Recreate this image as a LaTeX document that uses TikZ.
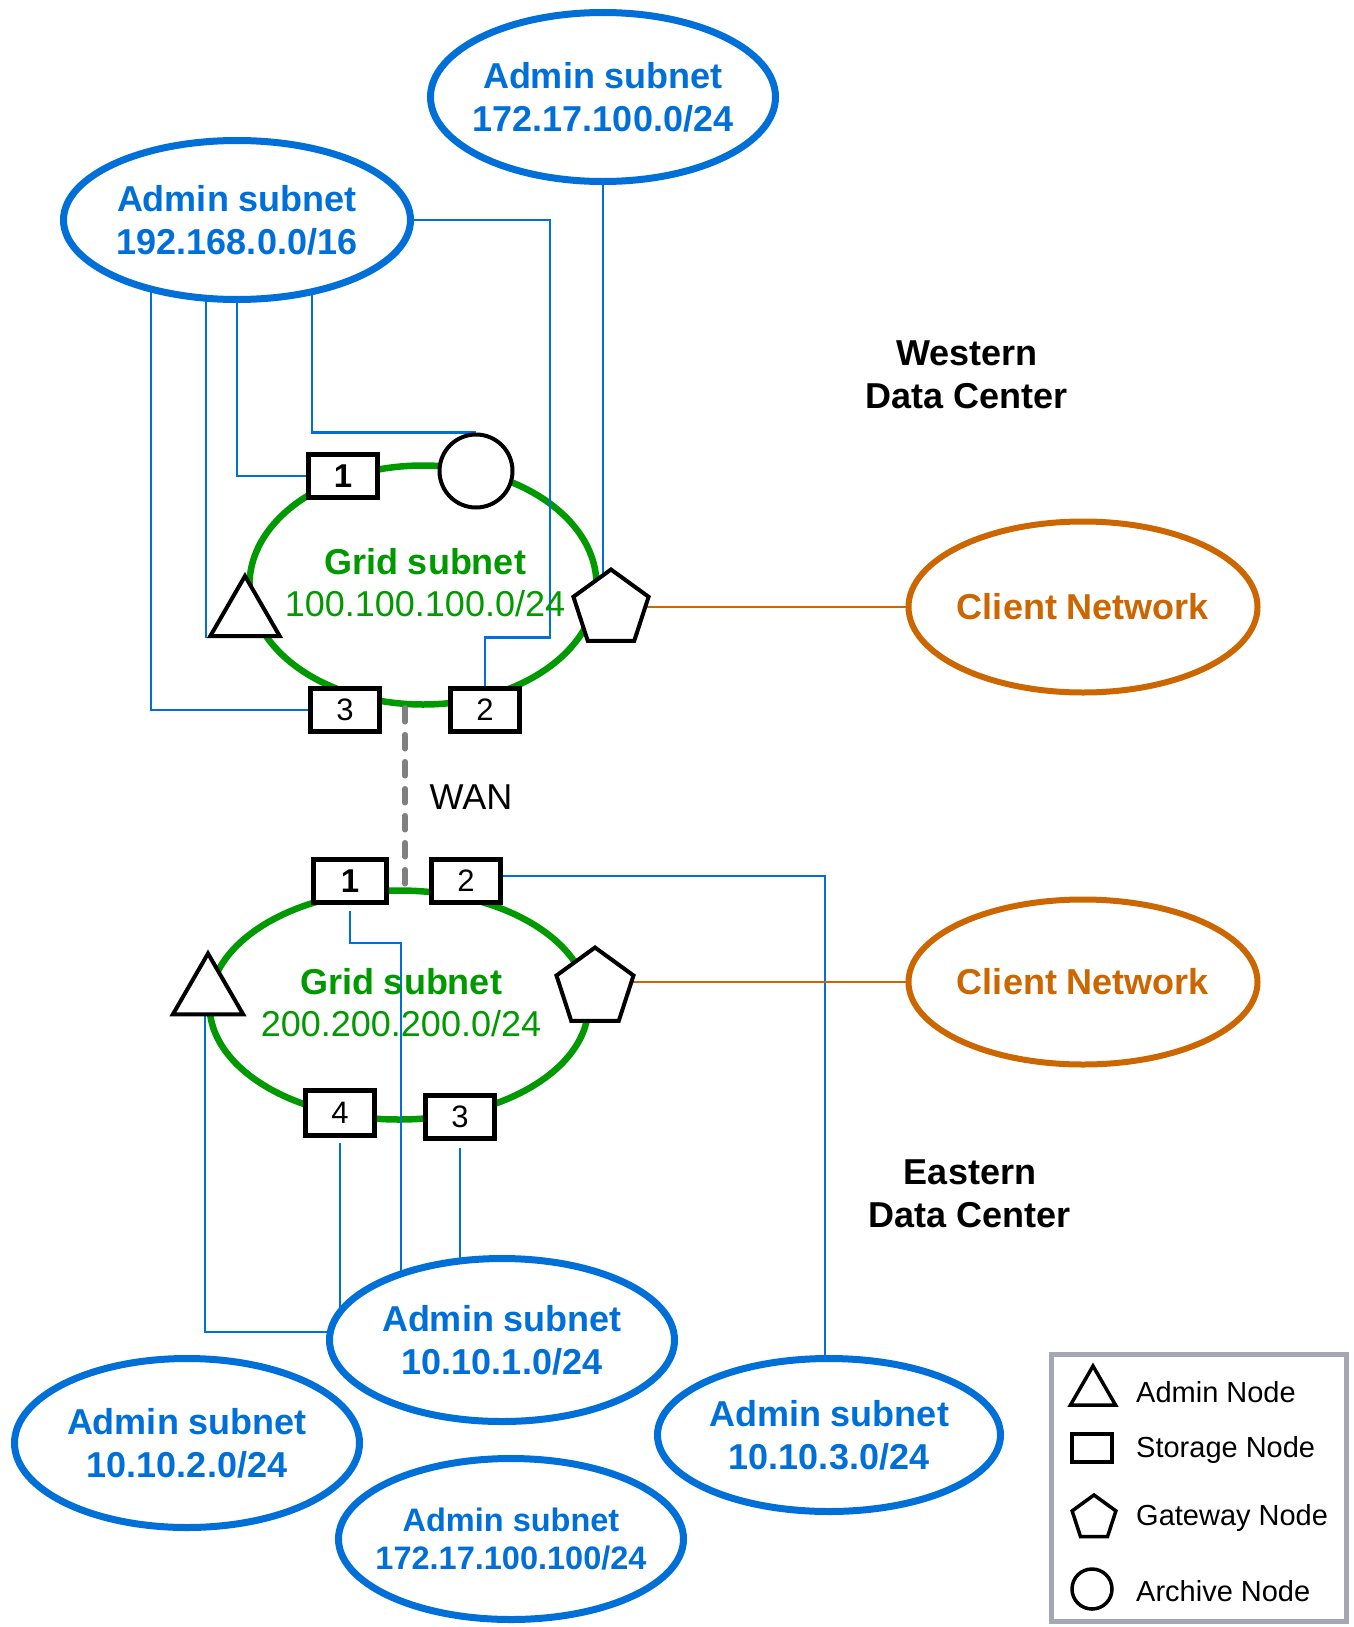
\documentclass[tikz,border=0pt]{standalone}
\usepackage{fontspec}
\setmainfont{Liberation Sans}
\usetikzlibrary{shapes.geometric,backgrounds,calc}
\definecolor{ablue}{RGB}{0,112,216}
\definecolor{ggreen}{RGB}{0,153,0}
\definecolor{corange}{RGB}{204,102,0}
\definecolor{wgray}{RGB}{128,128,128}
\definecolor{lgray}{RGB}{165,168,180}
\tikzset{
 adm/.style={ellipse, draw=ablue, line width=7pt, fill=white, text=ablue,
   font=\fontsize{36pt}{43pt}\selectfont\bfseries, align=center, inner xsep=-60pt, inner ysep=0pt},
 cli/.style={ellipse, draw=corange, line width=6pt, fill=white, text=corange,
   font=\fontsize{36pt}{43pt}\selectfont\bfseries, inner xsep=-60pt, inner ysep=0pt},
 gridell/.style={ellipse, draw=ggreen, line width=6.5pt, inner sep=0pt},
 gtext/.style={text=ggreen, font=\fontsize{36pt}{42pt}\selectfont, align=center, inner sep=0pt},
 stor/.style={rectangle, draw=black, line width=4.5pt, fill=white, minimum width=69pt,
   minimum height=43pt, font=\fontsize{31pt}{31pt}\selectfont, inner sep=0pt},
 tri/.style={regular polygon, regular polygon sides=3, draw=black, line width=4pt, fill=white, inner sep=0pt},
 pent/.style={regular polygon, regular polygon sides=5, draw=black, line width=4pt, fill=white, inner sep=0pt},
 arch/.style={circle, draw=black, line width=4pt, fill=white, inner sep=0pt},
 conn/.style={draw=ablue, line width=2.5pt},
 cconn/.style={draw=corange, line width=2pt},
 wan/.style={draw=wgray, line width=5.5pt, dash pattern=on 14pt off 13pt, line cap=round},
 dc/.style={font=\fontsize{36pt}{43pt}\selectfont\bfseries, align=center, inner sep=0pt},
 ltext/.style={font=\fontsize{29pt}{29pt}\selectfont, anchor=west, inner sep=0pt},
}
\begin{document}
\begin{tikzpicture}[x=1pt,y=-1pt]
\useasboundingbox (0,0) rectangle (1354,1627);

% admin subnets
\node[adm, minimum width=345pt, minimum height=169pt] (A172w) at (603,97) {Admin subnet\\172.17.100.0/24};
\node[adm, minimum width=347pt, minimum height=159pt] (A192) at (237,220) {Admin subnet\\192.168.0.0/16};
\node[adm, minimum width=345pt, minimum height=163pt] (A1011) at (502,1340) {Admin subnet\\10.10.1.0/24};
\node[adm, minimum width=345pt, minimum height=169pt] (A1012) at (187,1443) {Admin subnet\\10.10.2.0/24};
\node[adm, minimum width=345pt, minimum height=161pt, font=\fontsize{32.5pt}{38pt}\selectfont\bfseries] (A172e) at (511,1539) {Admin subnet\\172.17.100.100/24};
\node[adm, minimum width=343pt, minimum height=153pt] (A1013) at (829,1435) {Admin subnet\\10.10.3.0/24};

% client networks
\node[cli, minimum width=349pt, minimum height=171pt] (Cw) at (1083,607) {Client Network};
\node[cli, minimum width=349pt, minimum height=165pt] (Ce) at (1083,982) {Client Network};

% grid subnet labels
\node[gtext] (gtW) at (425,583) {\textbf{Grid subnet}\\100.100.100.0/24};
\node[gtext] (gtE) at (401,1003) {\textbf{Grid subnet}\\200.200.200.0/24};

% western nodes
\node[stor, font=\fontsize{33pt}{33pt}\selectfont\bfseries] (S1w) at (343,476) {1};
\node[stor] (S3w) at (345,710) {3};
\node[stor] (S2w) at (485,710) {2};
\node[arch, minimum size=73pt] (Aw) at (476,471) {};
\node[tri, minimum size=80pt] (Tw) at (245,616) {};
\node[pent, minimum size=79pt] (Gw) at (611,609) {};

% eastern nodes
\node[stor, minimum width=73pt, font=\fontsize{33pt}{33pt}\selectfont\bfseries] (S1e) at (350,881) {1};
\node[stor] (S2e) at (466,881) {2};
\node[stor, minimum height=45pt] (S4e) at (340,1113) {4};
\node[stor] (S3e) at (460,1117) {3};
\node[tri, minimum size=81pt] (Te) at (208,994) {};
\node[pent, minimum size=81pt] (Ge) at (595,988) {};

% labels
\node[dc] (west) at (967,375) {Western\\Data Center};
\node[dc] (east) at (970,1194) {Eastern\\Data Center};
\node[font=\fontsize{36pt}{36pt}\selectfont, inner sep=0pt] (wan) at (471,797) {WAN};

% legend
\node[draw=lgray, line width=5pt, minimum width=295pt, minimum height=267pt, inner sep=0pt] (leg) at (1199,1488) {};
\node[tri, line width=3.5pt, minimum size=52pt] (lt) at (1093,1392) {};
\node[stor, line width=3.5pt, minimum width=40pt, minimum height=28pt] (ls) at (1092,1448) {};
\node[pent, line width=3.5pt, minimum size=46pt] (lp) at (1094,1518) {};
\node[arch, line width=3.5pt, minimum size=40pt] (lc) at (1092,1589) {};
\node[ltext] (ltA) at (1136,1392) {Admin Node};
\node[ltext] (ltS) at (1136,1450) {Storage Node};
\node[ltext] (ltG) at (1136,1518) {Gateway Node};
\node[ltext] (ltR) at (1136,1591) {Archive Node};

\begin{scope}[on background layer]
\node[gridell, minimum width=347pt, minimum height=239pt] (gridW) at (423,585) {};
\node[gridell, minimum width=379pt, minimum height=229pt] (gridE) at (399,1005) {};

% western connectors
\draw[conn] (A192.center) ++(-86,0) |- (S3w.center);
\draw[conn] (A192.center) ++(-31,0) coordinate (tw1) -- (tw1 |- Tw.corner 2);
\draw[conn] (A192.center) |- (S1w.center);
\draw[conn] (A192.center) ++(75,0) |- (Aw.north);
\draw[conn] (A192.center) -| ([xshift=65,yshift=49]S2w.north) -| (S2w.center);
\draw[conn] (A172w.center) -- (A172w.center |- Gw.center);
\draw[cconn] (Cw.center -| Gw.center) -- (Cw.center);

% WAN
\draw[wan] (gridW.south) ++(-18,0) coordinate (w1) -- (w1 |- gridE.north);

% eastern connectors
\draw[conn] ([yshift=5]S2e.center) -| ([xshift=-4]A1013.center);
\draw[conn, shorten <=6pt] (S1e.south) -- ++(0,38) -| ([xshift=-101]A1011.center);
\draw[conn] ([xshift=-3]Te.center) |- ([yshift=8]A1011.center);
\draw[conn, shorten <=5pt] (S4e.south) -- (S4e.south |- A1011.center);
\draw[conn, shorten <=7pt] (S3e.south) -- (S3e.south |- A1011.center);
\draw[cconn] (Ce.center -| Ge.center) -- (Ce.center);
\end{scope}
\end{tikzpicture}
\end{document}
